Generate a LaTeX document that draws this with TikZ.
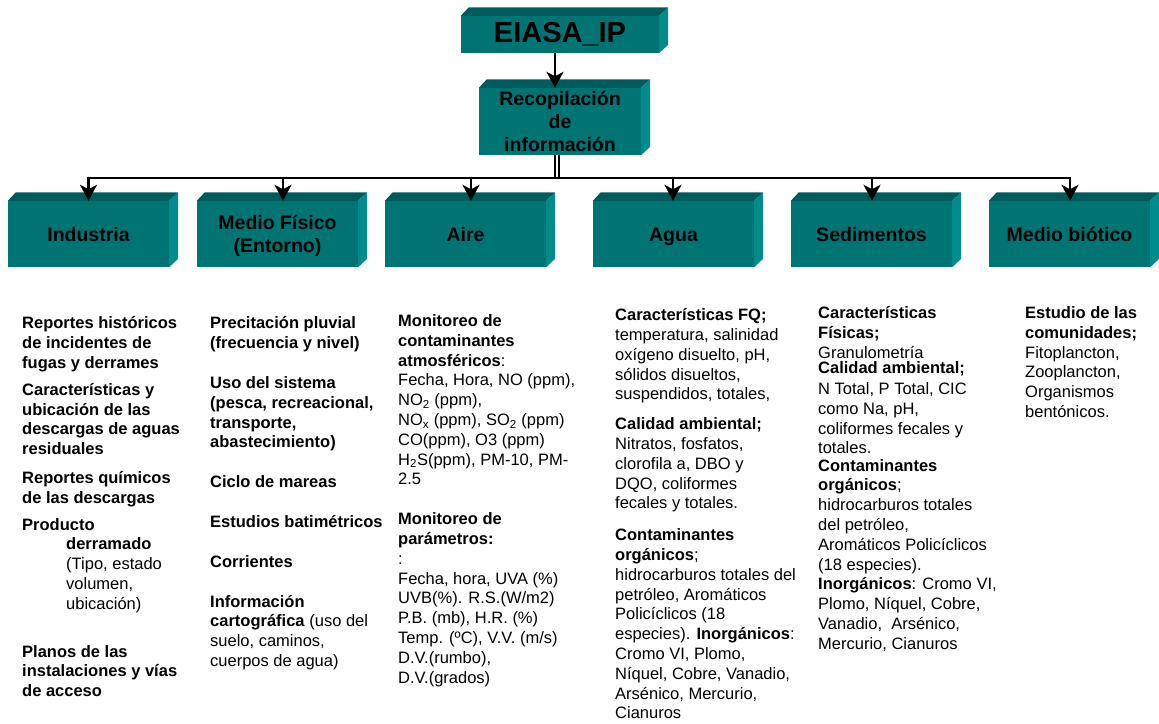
\documentclass[tikz,border=0pt]{standalone}
\usepackage{fontspec}
\setmainfont{Liberation Sans}
\usetikzlibrary{arrows.meta,calc}
\definecolor{tfront}{RGB}{0,115,115}
\definecolor{ttop}{RGB}{0,92,92}
\definecolor{tright}{RGB}{0,140,140}
\newcommand{\bfx}[1]{\textbf{#1}}
\begin{document}
\begin{tikzpicture}[x=1pt,y=-1pt,
  box/.style={fill=tfront, inner sep=0pt, align=center, font=\bfseries\fontsize{19.5}{23}\selectfont},
  rowbox/.style={box, minimum width=161pt, minimum height=66pt},
  one/.style={text height=16pt, text depth=1pt},
  txt/.style={anchor=north west, inner sep=0pt, align=left, font=\fontsize{16.5}{19.8}\selectfont},
  arr/.style={line width=2.2pt, -{Stealth[length=16pt,width=17pt,inset=4.5pt]}},
  dbl/.style={double, double distance=2.6pt, line width=1.4pt}]
\useasboundingbox (0,0) rectangle (1159,723);

% boxes
\node[box, minimum width=198pt, minimum height=37pt, font=\bfseries\fontsize{29}{34}\selectfont] (eiasa) at (560,34.5) {EIASA\_IP};
\node[box, minimum width=162pt, minimum height=67pt] (rec) at (560,121.5) {Recopilación\\de\\información};
\node[rowbox, one] (ind) at (88.5,234) {Industria};
\node[rowbox, text depth=0pt] (med) at (277.5,234) {Medio Físico\\(Entorno)};
\node[rowbox, one] (aire) at (465.5,234) {Aire};
\node[rowbox, one] (agua) at (673.5,234) {Agua};
\node[rowbox, one] (sed) at (871.5,234) {Sedimentos};
\node[rowbox, one] (bio) at (1069.5,234) {Medio biótico};

\foreach \n in {eiasa,rec,ind,med,aire,agua,sed,bio}{
  \fill[ttop] (\n.north west) -- ([shift={(8,-8.5)}]\n.north west) -- ([shift={(9,-8.5)}]\n.north east) -- (\n.north east) -- cycle;
  \fill[tright] (\n.north east) -- ([shift={(9,-8.5)}]\n.north east) -- ([shift={(9,-8.5)}]\n.south east) -- (\n.south east) -- cycle;
}

% connectors
\draw[arr] ([xshift=-5pt]eiasa.south) -- ([xshift=-5pt]rec.north);
\coordinate (bm) at (557,178);
\coordinate (b2) at (283,178);
\coordinate (b3) at (471,178);
\coordinate (b4) at (673,178);
\coordinate (b5) at (872,178);
\draw[dbl] ([xshift=-3pt]rec.south) -- (bm);
\draw[arr] (bm) -| ([xshift=0pt]ind.north);
\draw[arr] (bm) -| ([xshift=0.5pt]bio.north);
\draw[arr] (b2) -- (b2 |- med.north);
\draw[arr] (b3) -- (b3 |- aire.north);
\draw[arr] (b4) -- (b4 |- agua.north);
\draw[arr] (b5) -- (b5 |- sed.north);

% texts
\node[txt] (t1) at (22,316.5) {\bfx{Reportes históricos}\\
\bfx{de incidentes de}\\
\bfx{fugas y derrames}\\[7pt]
\bfx{Características y}\\
\bfx{ubicación de las}\\
\bfx{descargas de aguas}\\
\bfx{residuales}\\[9pt]
\bfx{Reportes químicos}\\
\bfx{de las descargas}\\[7pt]
\bfx{Producto}\\
\hspace*{44pt}\bfx{derramado}\\
\hspace*{44pt}(Tipo, estado\\
\hspace*{44pt}volumen,\\
\hspace*{44pt}ubicación)\\[28pt]
\bfx{Planos de las}\\
\bfx{instalaciones y vías}\\
\bfx{de acceso}};

\node[txt] (t2) at (210,316.5) {\bfx{Precitación pluvial}\\
\bfx{(frecuencia y nivel)}\\[20pt]
\bfx{Uso del sistema}\\
\bfx{(pesca, recreacional,}\\
\bfx{transporte,}\\
\bfx{abastecimiento)}\\[20pt]
\bfx{Ciclo de mareas}\\[20pt]
\bfx{Estudios batimétricos}\\[20pt]
\bfx{Corrientes}\\[20pt]
\bfx{Información}\\
\bfx{cartográfica} (uso del\\
suelo, caminos,\\
cuerpos de agua)};

\node[txt] (t3) at (398,314.4) {\bfx{Monitoreo de}\\
\bfx{contaminantes}\\
\bfx{atmosféricos}:\\
Fecha, Hora, NO (ppm),\\
NO\textsubscript{2} (ppm),\\
NO\textsubscript{x} (ppm), SO\textsubscript{2} (ppm)\\
CO(ppm), O3 (ppm)\\
H\textsubscript{2}S(ppm), PM-10, PM-\\
2.5\\[20pt]
\bfx{Monitoreo de}\\
\bfx{parámetros:}\\
:\\
Fecha, hora, UVA (\%)\\
UVB(\%). R.S.(W/m2)\\
P.B. (mb), H.R. (\%)\\
Temp. (ºC), V.V. (m/s)\\
D.V.(rumbo),\\
D.V.(grados)};

\node[txt] (t4) at (615,308.4) {\bfx{Características FQ;}\\
temperatura, salinidad\\
oxígeno disuelto, pH,\\
sólidos disueltos,\\
suspendidos, totales,\\[10pt]
\bfx{Calidad ambiental;}\\
Nitratos, fosfatos,\\
clorofila a, DBO y\\
DQO, coliformes\\
fecales y totales.\\[12pt]
\bfx{Contaminantes}\\
\bfx{orgánicos};\\
hidrocarburos totales del\\
petróleo, Aromáticos\\
Policíclicos (18\\
especies). \bfx{Inorgánicos}:\\
Cromo VI, Plomo,\\
Níquel, Cobre, Vanadio,\\
Arsénico, Mercurio,\\
Cianuros};

\node[txt] (t5) at (818,306.4) {\bfx{Características}\\
\bfx{Físicas;}\\
Granulometría\\[-5pt]
\bfx{Calidad ambiental;}\\[2pt]
N Total, P Total, CIC\\
como Na, pH,\\
coliformes fecales y\\[-1pt]
totales.\\[-2pt]
\bfx{Contaminantes}\\
\bfx{orgánicos};\\
hidrocarburos totales\\
del petróleo,\\
Aromáticos Policíclicos\\
(18 especies).\\
\bfx{Inorgánicos}: Cromo VI,\\
Plomo, Níquel, Cobre,\\
Vanadio,~ Arsénico,\\
Mercurio, Cianuros};

\node[txt] (t6) at (1025,306.4) {\bfx{Estudio de las}\\
\bfx{comunidades;}\\
Fitoplancton,\\
Zooplancton,\\
Organismos\\
bentónicos.};
\end{tikzpicture}
\end{document}
